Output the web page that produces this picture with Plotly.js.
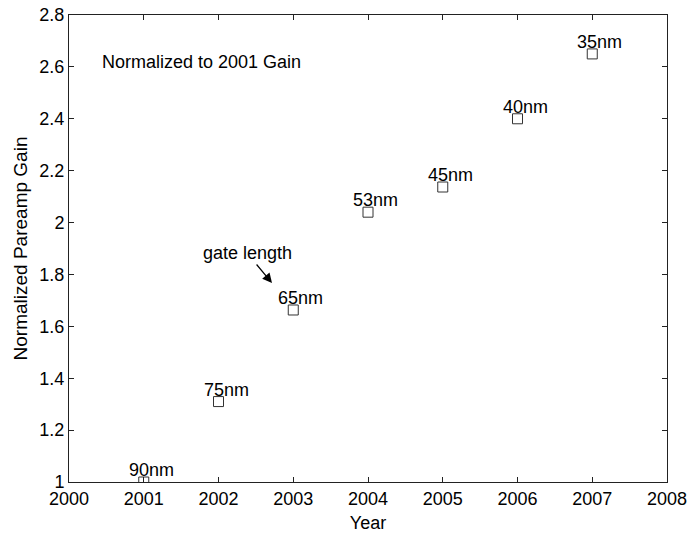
<!DOCTYPE html>
<html>
<head>
<meta charset="utf-8">
<script src="https://cdn.plot.ly/plotly-3.0.1.min.js"></script>
<style>
  html, body { margin: 0; padding: 0; background: #fff; }
  #chart { width: 700px; height: 533px; }
</style>
</head>
<body>
<div id="chart"></div>
<script>
// Paramp gain per year, normalized to the 2001 value
const years = [2001, 2002, 2003, 2004, 2005, 2006, 2007];
const gain = [1.0, 1.31, 1.663, 2.04, 2.137, 2.40, 2.65];
const gateLengths = ['90nm', '75nm', '65nm', '53nm', '45nm', '40nm', '35nm'];

const FONT = 'Liberation Sans, Arial, Helvetica, sans-serif';
const FS = 18;

const trace = {
  x: years,
  y: gain,
  type: 'scatter',
  mode: 'markers',
  marker: {
    symbol: 'square-open',
    size: 10,
    color: '#333',
    line: { width: 1, color: '#333' }
  },
  hoverinfo: 'x+y'
};

// Gate-length labels sit just above each marker
const labelAnnotations = years.map((yr, i) => ({
  x: yr,
  y: gain[i],
  xref: 'x',
  yref: 'y',
  text: gateLengths[i],
  showarrow: false,
  xanchor: 'left',
  yanchor: 'middle',
  xshift: -17,
  yshift: 12,
  font: { family: FONT, size: FS, color: '#000' }
}));

const annotations = labelAnnotations.concat([
  {
    xref: 'paper', yref: 'paper',
    x: (100 - 69) / 598, y: (482 - 62) / 467,
    xanchor: 'left', yanchor: 'middle',
    text: 'Normalized to 2001 Gain',
    showarrow: false,
    font: { family: FONT, size: FS, color: '#000' }
  },
  {
    xref: 'paper', yref: 'paper',
    x: (272 - 69) / 598, y: (482 - 283) / 467,
    text: 'gate length',
    showarrow: true,
    arrowhead: 2,
    arrowsize: 1.6,
    arrowwidth: 1.2,
    arrowcolor: '#000',
    ax: -25,
    ay: -30,
    standoff: 0,
    font: { family: FONT, size: FS, color: '#000' }
  }
]);

const axisCommon = {
  showgrid: false,
  zeroline: false,
  showline: true,
  linecolor: '#222',
  linewidth: 1,
  mirror: 'ticks',
  ticks: 'inside',
  ticklen: 5,
  tickcolor: '#222',
  tickfont: { family: FONT, size: FS, color: '#000' }
};

const layout = {
  width: 700,
  height: 533,
  margin: { l: 69, r: 33, t: 15, b: 51 },
  paper_bgcolor: '#fff',
  plot_bgcolor: '#fff',
  showlegend: false,
  xaxis: Object.assign({}, axisCommon, {
    range: [2000, 2008],
    tickmode: 'linear',
    tick0: 2000,
    dtick: 1,
    title: { text: 'Year', font: { family: FONT, size: FS, color: '#000' }, standoff: 8 }
  }),
  yaxis: Object.assign({}, axisCommon, {
    range: [1, 2.8],
    tickmode: 'linear',
    tick0: 1,
    dtick: 0.2,
    title: { text: 'Normalized Pareamp Gain', font: { family: FONT, size: 19, color: '#000' }, standoff: 6 }
  }),
  annotations: annotations
};

Plotly.newPlot('chart', [trace], layout, { displayModeBar: false, staticPlot: true });
</script>
</body>
</html>
